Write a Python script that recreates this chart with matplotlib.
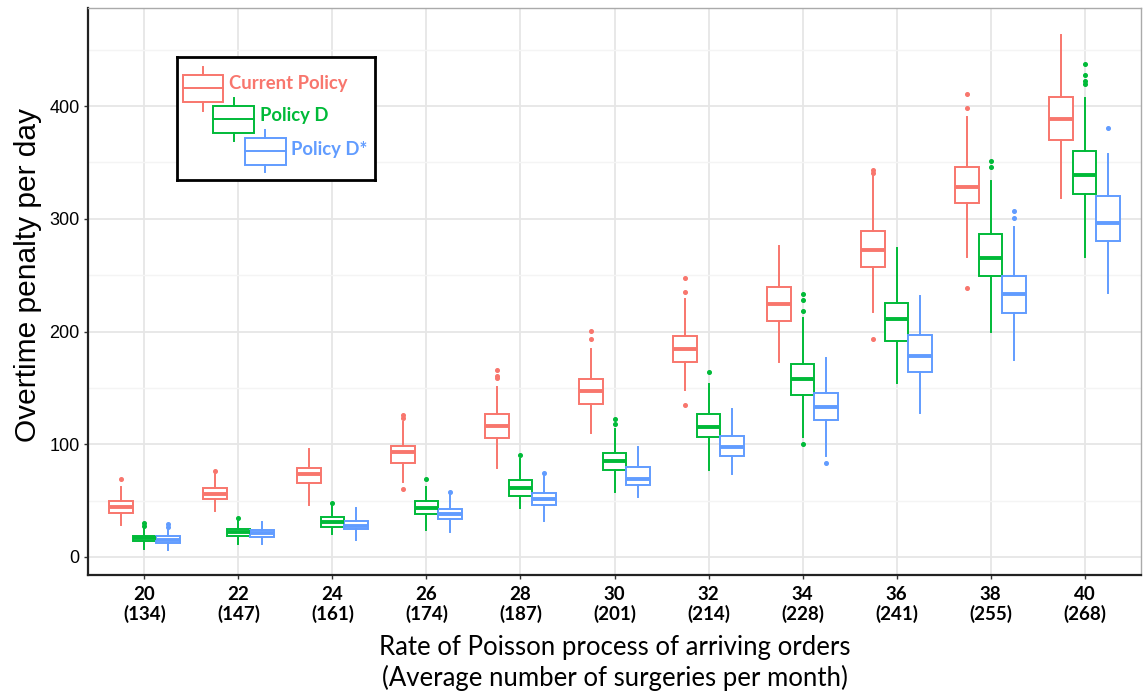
import matplotlib
matplotlib.use('Agg')
import matplotlib.pyplot as plt
from matplotlib.patches import Rectangle

# x categories
rates = [20, 22, 24, 26, 28, 30, 32, 34, 36, 38, 40]
surgeries = [134, 147, 161, 174, 187, 201, 214, 228, 241, 255, 268]

# Current Policy
cur_lo  = [28.7, 40.8, 45.8, 66.8, 79.2, 110.0, 148.4, 173.4, 217.7, 266.2, 318.5]
cur_q1  = [39.0, 51.2, 65.9, 83.7, 105.8, 136.0, 173.0, 209.5, 257.0, 313.8, 369.9]
cur_med = [44.3, 55.9, 73.3, 92.8, 116.5, 147.2, 184.2, 224.7, 271.9, 328.4, 388.9]
cur_q3  = [50.0, 60.9, 78.7, 98.2, 126.5, 158.2, 195.7, 239.6, 289.4, 345.8, 407.9]
cur_hi  = [61.8, 73.6, 95.8, 119.4, 151.0, 184.2, 229.1, 275.8, 337.6, 389.9, 462.8]
cur_out = [[69.5], [76.5], [], [125.6, 123.3, 60.6], [165.6, 160.5, 158.8],
           [200.2, 193.7], [247.7, 235.3, 134.8], [], [343.0, 340.7, 193.7],
           [410.8, 398.1, 238.7], []]

# Policy D
d_lo  = [7.1, 11.8, 20.1, 23.9, 43.7, 57.4, 76.9, 106.8, 154.0, 199.4, 266.2]
d_q1  = [13.9, 18.9, 26.9, 38.4, 54.4, 77.4, 106.1, 143.6, 191.4, 249.1, 322.0]
d_med = [16.6, 22.4, 31.0, 43.7, 61.2, 85.4, 115.6, 157.5, 211.4, 265.3, 339.1]
d_q3  = [18.9, 25.1, 35.2, 50.0, 68.0, 92.2, 126.5, 171.2, 225.4, 286.5, 359.7]
d_hi  = [25.5, 32.0, 46.0, 61.8, 87.2, 113.5, 153.2, 212.0, 274.2, 333.4, 407.0]
d_out = [[30.4, 27.5], [34.6], [48.2], [68.9], [90.2], [122.7, 117.7], [164.4],
         [233.3, 227.9, 218.4, 100.5], [], [350.9, 346.1],
         [437.7, 427.6, 422.2, 420.0]]

# Policy D*
ds_lo  = [6.5, 11.8, 15.1, 22.4, 31.6, 52.9, 73.6, 90.0, 128.0, 174.3, 234.5]
ds_q1  = [12.4, 17.4, 24.8, 34.0, 45.8, 63.9, 89.3, 121.4, 164.5, 216.2, 279.9]
ds_med = [15.1, 21.6, 27.8, 38.1, 51.7, 69.5, 97.6, 133.4, 178.4, 233.3, 296.7]
ds_q3  = [18.3, 23.6, 31.9, 42.6, 57.0, 79.6, 107.3, 145.5, 196.5, 249.1, 319.8]
ds_hi  = [24.0, 31.3, 43.7, 55.0, 72.5, 97.6, 131.0, 176.9, 231.4, 292.9, 357.8]
ds_out = [[29.3, 26.3], [], [], [57.4], [74.2], [], [], [83.7], [],
          [307.1, 301.1], [380.7]]

labels = ['Current Policy', 'Policy D', 'Policy D*']
colors = ['#F8766D', '#00BA38', '#619CFF']

series = [
    (cur_lo, cur_q1, cur_med, cur_q3, cur_hi, cur_out),
    (d_lo, d_q1, d_med, d_q3, d_hi, d_out),
    (ds_lo, ds_q1, ds_med, ds_q3, ds_hi, ds_out),
]

W, H = 1143, 694
fig = plt.figure(figsize=(W / 100, H / 100), dpi=100)
ax = fig.add_axes([88 / W, 1 - 575 / H, 1053 / W, 567 / H])

# grid
ax.set_axisbelow(True)
ax.set_yticks([50, 150, 250, 350, 450], minor=True)
ax.grid(which='major', color='#E6E6E6', lw=1.3)
ax.grid(which='minor', axis='y', color='#F4F4F4', lw=1.0)

offsets = [-0.25, 0.0, 0.25]
for (lo, q1, med, q3, hi, out), col, off in zip(series, colors, offsets):
    stats = []
    for i in range(len(rates)):
        stats.append(dict(whislo=lo[i], q1=q1[i], med=med[i], q3=q3[i],
                          whishi=hi[i], fliers=out[i]))
    pos = [i + off for i in range(len(rates))]
    ax.bxp(stats, positions=pos, widths=0.25, showcaps=False, patch_artist=True,
           boxprops=dict(facecolor='white', edgecolor=col, lw=1.4),
           whiskerprops=dict(color=col, lw=1.4),
           medianprops=dict(color=col, lw=2.8, solid_capstyle='butt'),
           flierprops=dict(marker='o', markersize=2.6, markerfacecolor=col,
                           markeredgecolor=col))

ax.set_xlim(-0.6, len(rates) - 0.4)
ax.set_ylim(-16, 487)
ax.set_xticks(range(len(rates)))
ax.set_xticklabels(['%d\n(%d)' % (r, s) for r, s in zip(rates, surgeries)],
                   fontfamily='Lato', fontsize=13.5, fontweight='bold',
                   linespacing=1.1)
ax.set_yticks([0, 100, 200, 300, 400])
ax.set_yticklabels(['0', '100', '200', '300', '400'],
                   fontfamily='Liberation Sans', fontsize=13)
ax.tick_params(axis='both', which='major', length=3, width=1, color='#333333', pad=3)
ax.tick_params(axis='both', which='minor', length=0)
ax.tick_params(axis='x', pad=5)

for s in ['top', 'right']:
    ax.spines[s].set_color('#AAAAAA')
    ax.spines[s].set_linewidth(1.0)
for s in ['left', 'bottom']:
    ax.spines[s].set_color('#222222')
    ax.spines[s].set_linewidth(1.6)

ax.set_xlabel('Rate of Poisson process of arriving orders\n(Average number of surgeries per month)',
              fontfamily='Lato', fontsize=18.5, linespacing=1.2, labelpad=9)
ax.set_ylabel('Overtime penalty per day', fontfamily='Liberation Sans',
              fontsize=21.5)
ax.yaxis.set_label_coords(-0.044, 0.529)

# custom staggered legend, drawn in pixel space of its own box
lg = fig.add_axes([177 / W, 1 - 180 / H, 198 / W, 123 / H])
lg.set_xlim(177, 375)
lg.set_ylim(180, 57)
lg.set_xticks([])
lg.set_yticks([])
for s in lg.spines.values():
    s.set_linewidth(2)
    s.set_color('black')
entries = [(182.7, 75, 88, 102, 67, 111, 229, 84),
           (213.5, 106, 119, 133, 98, 141, 260, 115),
           (245, 138, 151, 165, 130, 172, 291, 149)]
for (x0, yt, ym, yb, wt, wb, tx, ty), col, lab in zip(entries, colors, labels):
    lg.add_patch(Rectangle((x0, yt), 40.5, yb - yt, facecolor='white',
                           edgecolor=col, lw=1.4))
    lg.plot([x0, x0 + 40.5], [ym, ym], color=col, lw=1.4)
    lg.plot([x0 + 20.25] * 2, [wt, yt], color=col, lw=1.4)
    lg.plot([x0 + 20.25] * 2, [yb, wb], color=col, lw=1.4)
    lg.text(tx, ty, lab, color=col, fontfamily='Lato', fontweight='bold',
            fontsize=13.3, va='center', ha='left')

fig.savefig('out.png', dpi=100)
